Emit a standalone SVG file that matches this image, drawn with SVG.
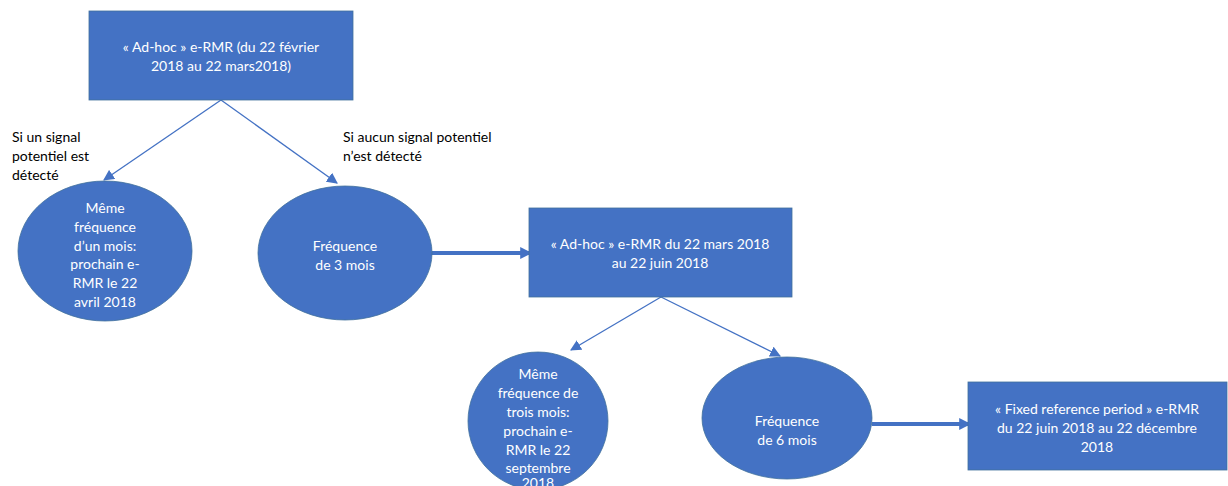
<svg xmlns="http://www.w3.org/2000/svg" width="1228" height="486" viewBox="0 0 1228 486">
<style>
.box{fill:#4472C4;stroke:#41719C;stroke-width:0.8}
.t{font-family:Lato,"Liberation Sans",sans-serif;font-size:14px;fill:#fff;text-anchor:middle}
.lbl{font-family:Lato,"Liberation Sans",sans-serif;font-size:14px;fill:#000}
.thin{stroke:#4472C4;stroke-width:1.3;fill:none}
.thick{stroke:#4472C4;stroke-width:4;fill:none}
</style>
<defs>
<marker id="tri" viewBox="0 0 10 10" refX="9" refY="5" markerWidth="11" markerHeight="11" markerUnits="userSpaceOnUse" orient="auto">
<path d="M0,0 L10,5 L0,10 z" fill="#4472C4"/>
</marker>
<marker id="triB" viewBox="0 0 10 10" refX="9" refY="5" markerWidth="3" markerHeight="3" orient="auto">
<path d="M0,0 L10,5 L0,10 z" fill="#4472C4"/>
</marker>
</defs>
<rect width="1228" height="486" fill="#fff"/>
<g id="connectors">
<line class="thin" x1="221" y1="100" x2="104" y2="180" marker-end="url(#tri)"/>
<line class="thin" x1="221" y1="100" x2="337" y2="183" marker-end="url(#tri)"/>
<line class="thick" x1="432" y1="253" x2="531" y2="253" marker-end="url(#triB)"/>
<line class="thin" x1="661" y1="297" x2="571" y2="350" marker-end="url(#tri)"/>
<line class="thin" x1="661" y1="297" x2="780" y2="356" marker-end="url(#tri)"/>
<line class="thick" x1="872" y1="424" x2="970" y2="424" marker-end="url(#triB)"/>
</g>
<g id="box1">
<rect class="box" x="89" y="11" width="264" height="89"/>
<text class="t" x="221" y="52">« Ad-hoc » e-RMR (du 22 février</text>
<text class="t" x="221" y="71">2018 au 22 mars2018)</text>
</g>
<g id="label-left">
<text class="lbl" x="12" y="142">Si un signal</text>
<text class="lbl" x="12" y="161">potentiel est</text>
<text class="lbl" x="12" y="180">détecté</text>
</g>
<g id="label-right">
<text class="lbl" x="343" y="142">Si aucun signal potentiel</text>
<text class="lbl" x="343" y="161">n’est détecté</text>
</g>
<g id="ellipse1">
<ellipse class="box" cx="105" cy="251" rx="87" ry="70"/>
<text class="t" x="105" y="213">Même</text>
<text class="t" x="105" y="232">fréquence</text>
<text class="t" x="105" y="251">d’un mois:</text>
<text class="t" x="105" y="269">prochain e-</text>
<text class="t" x="105" y="288">RMR le 22</text>
<text class="t" x="105" y="307">avril 2018</text>
</g>
<g id="ellipse2">
<ellipse class="box" cx="345" cy="253" rx="87" ry="67"/>
<text class="t" x="345" y="251">Fréquence</text>
<text class="t" x="345" y="270">de 3 mois</text>
</g>
<g id="box2">
<rect class="box" x="529" y="208" width="263" height="89"/>
<text class="t" x="660" y="249">« Ad-hoc » e-RMR du 22 mars 2018</text>
<text class="t" x="660" y="268">au 22 juin 2018</text>
</g>
<g id="ellipse3">
<ellipse class="box" cx="538" cy="421" rx="70" ry="69"/>
<text class="t" x="538" y="379">Même</text>
<text class="t" x="538" y="398">fréquence de</text>
<text class="t" x="538" y="417">trois mois:</text>
<text class="t" x="538" y="436">prochain e-</text>
<text class="t" x="538" y="455">RMR le 22</text>
<text class="t" x="538" y="473">septembre</text>
<text class="t" x="538" y="488">2018</text>
</g>
<g id="ellipse4">
<ellipse class="box" cx="787" cy="418" rx="85" ry="61"/>
<text class="t" x="787" y="426">Fréquence</text>
<text class="t" x="787" y="445">de 6 mois</text>
</g>
<g id="box3">
<rect class="box" x="968" y="382" width="259" height="88"/>
<text class="t" x="1097" y="414">« Fixed reference period » e-RMR</text>
<text class="t" x="1097" y="433">du 22 juin 2018 au 22 décembre</text>
<text class="t" x="1097" y="452">2018</text>
</g>
</svg>
